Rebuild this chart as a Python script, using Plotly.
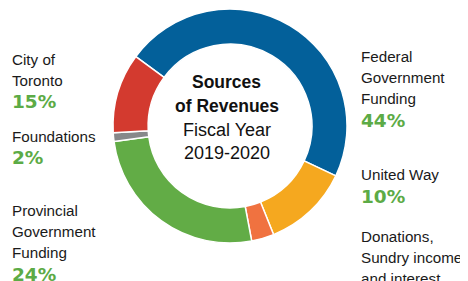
import plotly.graph_objects as go

# Slices, in clockwise order starting from the Federal slice
slice_names = ["Federal Government Funding", "United Way",
               "Donations, Sundry income and interest",
               "Provincial Government Funding", "Foundations", "City of Toronto"]
slice_values = [46.8, 11.9, 3.1, 25.8, 1.2, 11.0]   # arc sizes as drawn
slice_colors = ["#03609a", "#f5a81f", "#f07240", "#62ac46", "#87888a", "#d33a2f"]

# Side labels (text lines) and printed percentages
label_lines = [
    ["Federal", "Government", "Funding"],
    ["United Way"],
    ["Donations,", "Sundry income", "and interest"],
    ["Provincial", "Government", "Funding"],
    ["Foundations"],
    ["City of", "Toronto"],
]
label_pcts = ["44%", "10%", "", "24%", "2%", "15%"]
center_lines = ["Sources", "of Revenues", "Fiscal Year", "2019-2020"]

VW, VH = 468, 281          # browser window
OFF = 8                    # default page body margin
W, H = VW - OFF, VH - OFF  # figure size
cx, cy, R = 230, 126, 117  # pie centre / radius in window pixels

def px(x):
    return (x - OFF) / W

def py(y):
    return 1 - (y - OFF) / H

fig = go.Figure(go.Pie(
    labels=slice_names, values=slice_values, sort=False, direction="clockwise",
    rotation=-53.6, hole=0.70, textinfo="none", hoverinfo="skip",
    marker=dict(colors=slice_colors, line=dict(color="white", width=1.5)),
    domain=dict(x=[px(cx - R), px(cx + R)], y=[py(cy + R), py(cy - R)]),
))

LBL_FONT = "Liberation Sans, Arial, sans-serif"
PCT_FONT = "DejaVu Sans, Liberation Sans, sans-serif"
GREEN = "#5cab46"
PITCH = 21.2

# (x left, cap-center y of first line) for each label group, window pixels
label_pos = [(359, 56.5), (359, 174.6), (359, 236), (10, 210.3), (10, 136), (10, 59.3)]

anns = []
def add(x, y, text, size, family, color="#1a1a1a", anchor="left"):
    anns.append(dict(x=px(x), y=py(y), xref="paper", yref="paper", text=text,
                     showarrow=False, xanchor=anchor, yanchor="middle",
                     font=dict(size=size, family=family, color=color)))

for (x, y0), lines, pct in zip(label_pos, label_lines, label_pcts):
    for i, ln in enumerate(lines):
        add(x, y0 + i * PITCH, ln, 15.2, LBL_FONT)
    if pct:
        add(x, y0 + len(lines) * PITCH + 0.3, "<b>" + pct + "</b>", 18.5, PCT_FONT, GREEN)

center_y = [82, 105.5, 129.8, 153]
for i, (ln, y) in enumerate(zip(center_lines, center_y)):
    txt = "<b>" + ln + "</b>" if i < 2 else ln
    add(226.5, y, txt, 17.5 if i < 2 else 18, "Liberation Sans, Arial, sans-serif", "#111111", "center")

fig.update_layout(width=W, height=H, margin=dict(l=0, r=0, t=0, b=0),
                  paper_bgcolor="white", plot_bgcolor="white", showlegend=False,
                  annotations=anns)
fig.write_html("out.html")
